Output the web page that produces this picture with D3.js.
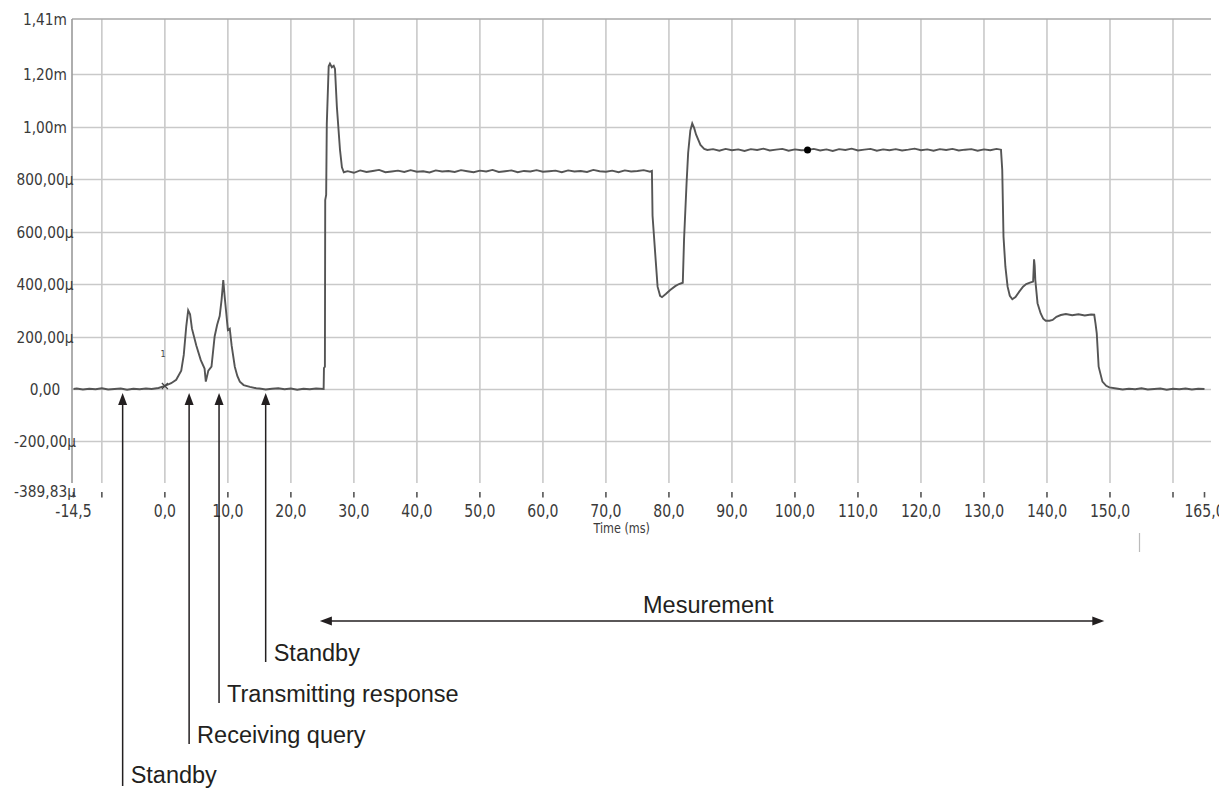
<!DOCTYPE html>
<html>
<head>
<meta charset="utf-8">
<script src="https://cdn.jsdelivr.net/npm/d3@7/dist/d3.min.js"></script>
<style>
  html, body { margin: 0; padding: 0; background: #fff; }
  svg { display: block; }
</style>
</head>
<body>
<svg id="chart" width="1219" height="789"></svg>
<script>
// ---- data (time in ms, value in µ-units as shown on axis) ----
const timeMs = [
  -14.5,-14,-13,-12,-11,-10,-9,-8,-7,-6,-5,-4,-3,-2.1,
  -1,0,1,1.8,2.6,3.0,3.4,3.7,4.0,4.3,5.0,5.7,6.3,6.5,6.9,7.4,7.9,8.3,8.7,9.0,9.27,9.5,9.7,10.0,10.3,10.6,11.1,11.5,11.9,12.5,13.5,14.5,
  15,16,17,18,19,20,21,22,23,24,25.2,
  25.25,25.4,25.45,25.6,25.7,26.0,26.2,26.5,26.8,27.0,27.3,27.8,28.1,28.4,
  29,30,31,32,33,34,35,36,37,38,
  39,40,41,42,43,44,45,46,47,48,
  49,50,51,52,53,54,55,56,57,58,
  59,60,61,62,63,64,65,66,67,68,
  69,70,71,72,73,74,75,76,77,77.3,
  77.4,77.9,78.2,78.6,78.9,79.5,80.2,81,81.6,82.2,82.4,82.8,83.05,83.4,83.7,84.0,84.3,85.0,85.6,86.1,
  87,88,89,90,91,92,93,94,95,96,
  97,98,99,100,101,102,103,104,105,106,
  107,108,109,110,111,112,113,114,115,116,
  117,118,119,120,121,122,123,124,125,126,
  127,128,129,130,131,132,132.7,
  132.9,133.1,133.4,133.75,134.1,134.5,135,135.6,136.2,136.7,137.3,137.8,137.95,138.05,138.15,138.5,139.0,139.4,139.8,140.4,140.9,141.5,142.2,
  143,144,145,146,147,147.5,
  147.7,147.9,148.2,148.8,149.4,149.9,
  151,152,153,154,155,156,157,158,159,160,161,162,163,164,165
];
const valueU = [
  0,2,-2,1,-1,3,-2,0,2,-3,1,-1,2,0,
  4,12,22,35,70,130,240,300,285,230,165,110,78,28,70,85,200,245,278,340,415,350,300,225,230,165,85,50,28,15,8,3,
  2,-2,1,3,-1,2,-3,1,-1,2,0,
  80,85,720,740,1010,1230,1240,1226,1232,1220,1075,910,845,826,
  830,824,833,827,831,835,826,829,832,827,
  834,828,830,825,833,829,831,827,834,830,
  826,832,829,835,827,830,833,826,831,829,
  834,828,830,832,826,833,829,831,827,835,
  830,828,832,826,833,829,831,834,828,831,
  660,490,390,355,350,362,377,392,400,405,570,785,900,985,1012,995,970,930,915,911,
  914,908,915,910,913,907,914,911,916,909,
  912,915,908,913,910,911,915,909,913,907,
  914,911,916,909,912,915,908,913,910,914,
  909,912,916,910,913,908,914,911,915,909,
  912,914,908,913,910,915,912,
  835,580,466,390,355,342,350,371,390,400,405,409,494,470,415,327,288,268,260,260,263,275,282,
  286,281,285,280,284,283,
  250,212,85,28,12,6,
  2,-2,1,-1,3,-2,0,2,-3,1,-1,2,-2,1,0
];

const markerTime = [102];
const markerValue = [911];

const yTickValues = [1410, 1200, 1000, 800, 600, 400, 200, 0, -200, -389.83];
const yTickLabels = ["1,41m","1,20m","1,00m","800,00µ","600,00µ","400,00µ","200,00µ","0,00","-200,00µ","-389,83µ"];
const xTickValues = [-14.5,-10,0,10,20,30,40,50,60,70,80,90,100,110,120,130,140,150,160,165];
const xTickLabels = ["-14,5","","0,0","10,0","20,0","30,0","40,0","50,0","60,0","70,0","80,0","90,0","100,0","110,0","120,0","130,0","140,0","150,0","","165,0"];
const xTitle = "Time (ms)";

const phaseNames = ["Standby","Receiving query","Transmitting response","Standby"];
const phaseTimes = [-6.7, 3.85, 8.6, 16.0];
const measureLabel = "Mesurement";
const measureRange = [24.6, 149.1];

// ---- layout ----
const svg = d3.select("#chart");
const x = d3.scaleLinear().domain([-14.5, 165]).range([73.5, 1204.5]);
const y = d3.scaleLinear().domain([-389.83, 1410]).range([491.3, 19]);
const plotLeft = 72, plotRight = 1211, gridBottom = 483;

const grid = svg.append("g");
grid.selectAll("line.h").data(yTickValues.filter(v => v > -300 && v < 1400)).enter()
  .append("line").attr("class","h")
  .attr("x1", plotLeft).attr("x2", plotRight)
  .attr("y1", d => Math.round(y(d)) + 0.5).attr("y2", d => Math.round(y(d)) + 0.5)
  .attr("stroke", "#c9c9c9").attr("stroke-width", 1.6);
grid.selectAll("line.v").data(xTickValues.filter(v => v > -14 && v < 161)).enter()
  .append("line").attr("class","v")
  .attr("x1", d => x(d)).attr("x2", d => x(d))
  .attr("y1", y(1410)).attr("y2", gridBottom)
  .attr("stroke", "#c9c9c9").attr("stroke-width", 1.6);
grid.append("line").attr("x1", plotLeft).attr("x2", plotRight)
  .attr("y1", y(1410)).attr("y2", y(1410)).attr("stroke", "#a8a8a8").attr("stroke-width", 1.6);
grid.append("line").attr("x1", plotLeft).attr("x2", plotLeft)
  .attr("y1", y(1410)).attr("y2", gridBottom).attr("stroke", "#9a9a9a").attr("stroke-width", 1.6);

svg.append("g").selectAll("line").data(xTickValues).enter().append("line")
  .attr("x1", d => x(d)).attr("x2", d => x(d))
  .attr("y1", 492).attr("y2", 497.5)
  .attr("stroke", "#555").attr("stroke-width", 1.6);

const fontAxis = "'DejaVu Sans', Verdana, sans-serif";
svg.append("g").selectAll("text").data(yTickValues).enter().append("text")
  .attr("transform", d => `translate(45,${y(d) + 6}) scale(0.86,1)`)
  .attr("text-anchor", "middle")
  .attr("font-family", fontAxis).attr("font-size", 16)
  .attr("fill", "#3a3a3a")
  .text((d, i) => yTickLabels[i]);
svg.append("g").selectAll("text").data(xTickValues).enter().append("text")
  .attr("transform", d => `translate(${x(d)},517) scale(0.78,1)`)
  .attr("text-anchor", "middle")
  .attr("font-family", fontAxis).attr("font-size", 18)
  .attr("fill", "#3a3a3a")
  .text((d, i) => xTickLabels[i]);
svg.append("text")
  .attr("transform", `translate(${x(72.5)},533) scale(0.8,1)`)
  .attr("text-anchor", "middle")
  .attr("font-family", fontAxis).attr("font-size", 14)
  .attr("fill", "#3a3a3a").text(xTitle);

svg.append("line").attr("x1", 1139.5).attr("x2", 1139.5).attr("y1", 533).attr("y2", 552)
  .attr("stroke", "#bbbbbb").attr("stroke-width", 1.2);

// signal
const pts = timeMs.map((t, i) => [t, valueU[i]]);
const line = d3.line().x(d => x(d[0])).y(d => y(d[1]));
svg.append("path").datum(pts)
  .attr("d", line)
  .attr("fill", "none").attr("stroke", "#555").attr("stroke-width", 1.9)
  .attr("stroke-linejoin", "miter");

svg.append("g").selectAll("circle").data(markerTime).enter().append("circle")
  .attr("cx", d => x(d)).attr("cy", (d, i) => y(markerValue[i])).attr("r", 3.5).attr("fill", "#000");
svg.append("text").attr("x", x(-0.3)).attr("y", 357).attr("text-anchor", "middle")
  .attr("font-family", fontAxis).attr("font-size", 8).attr("fill", "#444").text("1");
svg.append("path").attr("d", `M${x(0)-3},${y(0)-6}L${x(0)+3},${y(0)}M${x(0)-3},${y(0)}L${x(0)+3},${y(0)-6}`)
  .attr("stroke", "#444").attr("stroke-width", 1.2);

// ---- annotations ----
const ink = "#231f20";
const fontAnn = "'Liberation Sans', Arial, sans-serif";
const tipY = 393;
const lineEnds = [786, 744, 703, 662];
const annG = svg.append("g");
phaseTimes.forEach((t, i) => {
  const px = x(t);
  annG.append("line").attr("x1", px).attr("x2", px)
    .attr("y1", tipY + 10).attr("y2", lineEnds[i])
    .attr("stroke", ink).attr("stroke-width", 1.5);
  annG.append("path")
    .attr("d", `M${px},${tipY}L${px - 4.5},${tipY + 12}L${px + 4.5},${tipY + 12}Z`)
    .attr("fill", ink);
  annG.append("text").attr("x", px + 8).attr("y", lineEnds[i] - (i === 0 ? 3 : 1))
    .attr("font-family", fontAnn).attr("font-size", 23.5).attr("fill", ink)
    .text(phaseNames[i]);
});
const mx1 = x(measureRange[0]), mx2 = x(measureRange[1]), my = 621;
annG.append("line").attr("x1", mx1 + 10).attr("x2", mx2 - 10).attr("y1", my).attr("y2", my)
  .attr("stroke", ink).attr("stroke-width", 1.5);
annG.append("path").attr("d", `M${mx1},${my}L${mx1 + 12},${my - 4.5}L${mx1 + 12},${my + 4.5}Z`).attr("fill", ink);
annG.append("path").attr("d", `M${mx2},${my}L${mx2 - 12},${my - 4.5}L${mx2 - 12},${my + 4.5}Z`).attr("fill", ink);
annG.append("text").attr("x", 643).attr("y", 613)
  .attr("font-family", fontAnn).attr("font-size", 23.5).attr("fill", ink)
  .text(measureLabel);
</script>
</body>
</html>
